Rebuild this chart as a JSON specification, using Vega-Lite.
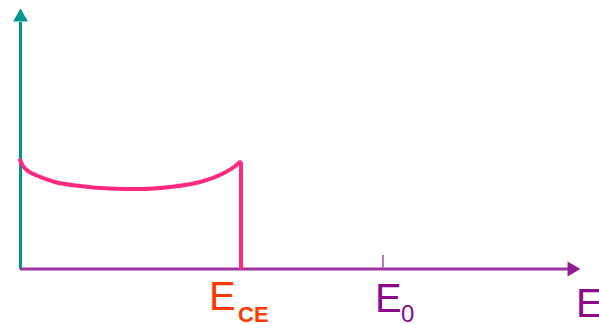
{
  "$schema": "https://vega.github.io/schema/vega-lite/v6.json",
  "width": 599,
  "height": 324,
  "padding": 0,
  "autosize": {"type": "none"},
  "config": {"view": {"stroke": null}},
  "datasets": {
    "curve": [
      {"x": 20, "y": 164},
      {"x": 23, "y": 158},
      {"x": 28, "y": 153},
      {"x": 38, "y": 148},
      {"x": 55, "y": 142},
      {"x": 80, "y": 138},
      {"x": 110, "y": 135.5},
      {"x": 140, "y": 135},
      {"x": 170, "y": 137},
      {"x": 200, "y": 142},
      {"x": 222, "y": 150},
      {"x": 234, "y": 157},
      {"x": 240, "y": 162}
    ],
    "yaxis": [{"x": 20.5, "y": 55, "y2": 302}],
    "xaxis": [{"x": 20, "x2": 570, "y": 55}],
    "tick": [{"x": 383, "y": 55, "y2": 69}],
    "drop": [{"x": 241, "y": 55, "y2": 162}],
    "uparrow": [{"x": 20.5, "y": 309}],
    "rightarrow": [{"x": 574, "y": 55}],
    "ece": [{"x": 209, "y": 14, "t": "E"}],
    "ecesub": [{"x": 238, "y": 2, "t": "CE"}],
    "e0": [{"x": 375, "y": 12, "t": "E"}, {"x": 576, "y": 7, "t": "E"}],
    "e0sub": [{"x": 401, "y": 2, "t": "0"}]
  },
  "encoding": {
    "x": {"field": "x", "type": "quantitative", "scale": {"domain": [0, 599], "nice": false, "zero": false}, "axis": null},
    "y": {"field": "y", "type": "quantitative", "scale": {"domain": [0, 324], "nice": false, "zero": false}, "axis": null}
  },
  "layer": [
    {
      "data": {"name": "yaxis"},
      "mark": {"type": "rule", "color": "#009590", "strokeWidth": 3},
      "encoding": {"y2": {"field": "y2"}}
    },
    {
      "data": {"name": "xaxis"},
      "mark": {"type": "rule", "color": "#a033a0", "strokeWidth": 3},
      "encoding": {"x2": {"field": "x2"}}
    },
    {
      "data": {"name": "tick"},
      "mark": {"type": "rule", "color": "#b040c0", "strokeWidth": 1.5},
      "encoding": {"y2": {"field": "y2"}}
    },
    {
      "data": {"name": "drop"},
      "mark": {"type": "rule", "color": "#ff2a7f", "strokeWidth": 4},
      "encoding": {"y2": {"field": "y2"}}
    },
    {
      "data": {"name": "uparrow"},
      "mark": {"type": "point", "shape": "triangle-up", "filled": true, "size": 220, "opacity": 1, "color": "#009590"},
      "encoding": {}
    },
    {
      "data": {"name": "rightarrow"},
      "mark": {"type": "point", "shape": "triangle-right", "filled": true, "size": 220, "opacity": 1, "color": "#8e1f8e"},
      "encoding": {}
    },
    {
      "data": {"name": "curve"},
      "mark": {"type": "line", "interpolate": "monotone", "color": "#ff2a7f", "strokeWidth": 4, "strokeCap": "round"},
      "encoding": {}
    },
    {
      "data": {"name": "ece"},
      "mark": {"type": "text", "align": "left", "baseline": "alphabetic", "font": "Liberation Sans", "fontSize": 40, "color": "#ff3a00"},
      "encoding": {"text": {"field": "t"}}
    },
    {
      "data": {"name": "ecesub"},
      "mark": {"type": "text", "align": "left", "baseline": "alphabetic", "font": "Liberation Sans", "fontSize": 22, "fontWeight": "bold", "color": "#ff3a00"},
      "encoding": {"text": {"field": "t"}}
    },
    {
      "data": {"name": "e0"},
      "mark": {"type": "text", "align": "left", "baseline": "alphabetic", "font": "Liberation Sans", "fontSize": 40, "color": "#8a0a8a"},
      "encoding": {"text": {"field": "t"}}
    },
    {
      "data": {"name": "e0sub"},
      "mark": {"type": "text", "align": "left", "baseline": "alphabetic", "font": "Liberation Sans", "fontSize": 24, "color": "#8a0a8a"},
      "encoding": {"text": {"field": "t"}}
    }
  ]
}
